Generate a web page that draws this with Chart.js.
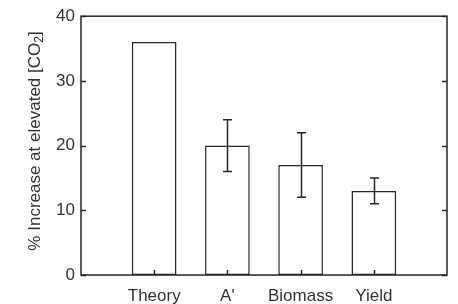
<!DOCTYPE html>
<html>
<head>
<meta charset="utf-8">
<script src="https://cdn.jsdelivr.net/npm/chart.js@4.4.1/dist/chart.umd.min.js"></script>
<style>
  html, body { margin: 0; padding: 0; background: #fff; }
  #wrap { width: 458px; height: 304px; position: relative; }
</style>
</head>
<body>
<div id="wrap"><canvas id="chart"></canvas></div>
<script>
// data
const categories = ['', 'Theory', "A'", 'Biomass', 'Yield', ''];
const values = [null, 36, 20, 17, 13, null];
const errors = [null, 0, 4, 5, 2, null];
const yTicks = [0, 10, 20, 30, 40];

const LINE = '#262626';
const TEXT = '#333';
const FONT = '"Liberation Sans", Arial, sans-serif';

// box + inward ticks, error bars, y title with subscript
const decorPlugin = {
  id: 'decor',
  afterDatasetsDraw(chart) {
    const ctx = chart.ctx;
    const a = chart.chartArea;
    const x = chart.scales.x;
    const y = chart.scales.y;
    ctx.save();
    ctx.strokeStyle = LINE;
    ctx.lineWidth = 1.5;
    ctx.strokeRect(a.left, a.top, a.right - a.left, a.bottom - a.top);

    // y ticks on both sides
    ctx.beginPath();
    yTicks.forEach(v => {
      const py = Math.round(y.getPixelForValue(v)) + 0.5;
      ctx.moveTo(a.left, py); ctx.lineTo(a.left + 5, py);
      ctx.moveTo(a.right, py); ctx.lineTo(a.right - 5, py);
    });
    // x ticks at the bottom
    categories.forEach((c, i) => {
      if (!c) return;
      const px = Math.round(x.getPixelForValue(i)) + 0.5;
      ctx.moveTo(px, a.bottom); ctx.lineTo(px, a.bottom - 5);
    });
    ctx.stroke();

    // error bars
    ctx.beginPath();
    values.forEach((v, i) => {
      if (v == null || !errors[i]) return;
      const px = Math.round(x.getPixelForValue(i)) + 0.5;
      const top = y.getPixelForValue(v + errors[i]);
      const bot = y.getPixelForValue(v - errors[i]);
      ctx.moveTo(px, top); ctx.lineTo(px, bot);
      ctx.moveTo(px - 4.5, top); ctx.lineTo(px + 4.5, top);
      ctx.moveTo(px - 4.5, bot); ctx.lineTo(px + 4.5, bot);
    });
    ctx.stroke();

    // y axis title
    const main = '% Increase at elevated [CO';
    const sub = '2';
    const end = ']';
    ctx.fillStyle = TEXT;
    ctx.font = '17px ' + FONT;
    const w1 = ctx.measureText(main).width;
    const w3 = ctx.measureText(end).width;
    ctx.font = '12px ' + FONT;
    const w2 = ctx.measureText(sub).width;
    const total = w1 + w2 + w3;
    ctx.translate(35, 141);
    ctx.rotate(-Math.PI / 2);
    ctx.textBaseline = 'middle';
    ctx.textAlign = 'left';
    let sx = -total / 2;
    ctx.font = '17px ' + FONT;
    ctx.fillText(main, sx, 0);
    sx += w1;
    ctx.font = '12px ' + FONT;
    ctx.fillText(sub, sx, 5);
    sx += w2;
    ctx.font = '17px ' + FONT;
    ctx.fillText(end, sx, 0);
    ctx.restore();
  }
};

const ctx = document.getElementById('chart').getContext('2d');
new Chart(ctx, {
  type: 'bar',
  data: {
    labels: categories,
    datasets: [{
      data: values,
      backgroundColor: '#fff',
      borderColor: LINE,
      borderWidth: 1.5,
      borderSkipped: false,
      categoryPercentage: 1,
      barPercentage: 0.61
    }]
  },
  options: {
    responsive: true,
    maintainAspectRatio: false,
    animation: false,
    layout: { padding: { top: 16, right: 6, left: 0, bottom: 0 } },
    plugins: {
      legend: { display: false },
      tooltip: { enabled: false }
    },
    scales: {
      x: {
        offset: false,
        grid: { display: false, drawTicks: false },
        border: { display: false },
        ticks: {
          color: TEXT,
          font: { family: FONT, size: 17 },
          padding: 11,
          autoSkip: false,
          maxRotation: 0
        },
        afterFit(scale) { scale.height = 29; }
      },
      y: {
        min: 0,
        max: 40,
        grid: { display: false, drawTicks: false },
        border: { display: false },
        ticks: {
          stepSize: 10,
          color: TEXT,
          font: { family: FONT, size: 17 },
          padding: 6
        },
        afterFit(scale) { scale.width = 81; }
      }
    }
  },
  plugins: [decorPlugin]
});
</script>
</body>
</html>
